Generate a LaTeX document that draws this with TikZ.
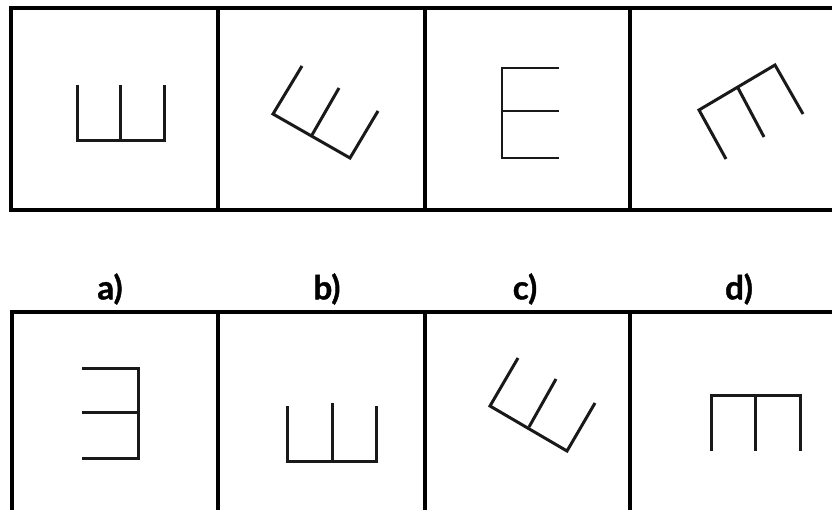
\documentclass[tikz,border=0pt]{standalone}
\usepackage{fontspec}
\setmainfont{Lato}
\begin{document}
\begin{tikzpicture}[x=1pt,y=-1pt,
  frame/.style={line width=3.4pt,draw=black},
  glyph/.style={line width=3pt,draw=black!90,line cap=butt,line join=miter},
  thinglyph/.style={line width=2.4pt,draw=black!90,line cap=butt,line join=miter},
  lab/.style={font=\bfseries\addfontfeature{FakeBold=1.2}\fontsize{33}{34}\selectfont,inner sep=0pt}]
\useasboundingbox (0,0) rectangle (832,510);
\clip (0,0) rectangle (832,510);
\fill[white] (0,0) rectangle (832,510);
% top row
\draw[frame] (11,8) rectangle (900,210);
\draw[frame] (218,8) -- (218,210);
\draw[frame] (425,8) -- (425,210);
\draw[frame] (630,8) -- (630,210);
% bottom row
\draw[frame] (12,312) rectangle (900,600);
\draw[frame] (218,312) -- (218,600);
\draw[frame] (425,312) -- (425,600);
\draw[frame] (630,312) -- (630,600);
% labels
\node[lab] (la) at (110,289) {a)};
\node[lab] (lb) at (327,289) {b)};
\node[lab] (lc) at (525,289) {c)};
\node[lab] (ld) at (739,289) {d)};
% figure 1: Sha
\draw[glyph] (77,85) -- (77,141) -- (164,141) -- (164,85);
\draw[glyph] (120,85) -- (120,141);
% figure 2: rotated
\draw[glyph] (302,66) -- (273,114) -- (350,158) -- (378,111);
\draw[glyph] (312,135) -- (339,88);
% figure 3: E
\draw[thinglyph] (559,68) -- (502,68) -- (502,158) -- (559,158);
\draw[thinglyph] (502,111) -- (559,111);
% figure 4: rotated
\draw[glyph] (726,159) -- (699,110) -- (775,65) -- (803,114);
\draw[glyph] (738,88) -- (764,137);
% option a
\draw[glyph] (82,368) -- (138,368) -- (138,458) -- (82,458);
\draw[glyph] (82,412) -- (138,412);
% option b
\draw[glyph] (287,406) -- (287,461) -- (376,461) -- (376,406);
\draw[glyph] (332,403) -- (332,461);
% option c
\draw[glyph] (518,358) -- (490,406) -- (567,451) -- (595,403);
\draw[glyph] (529,427) -- (556,379);
% option d
\draw[glyph] (711,451) -- (711,395) -- (800,395) -- (800,451);
\draw[glyph] (755,395) -- (755,451);
\end{tikzpicture}
\end{document}
